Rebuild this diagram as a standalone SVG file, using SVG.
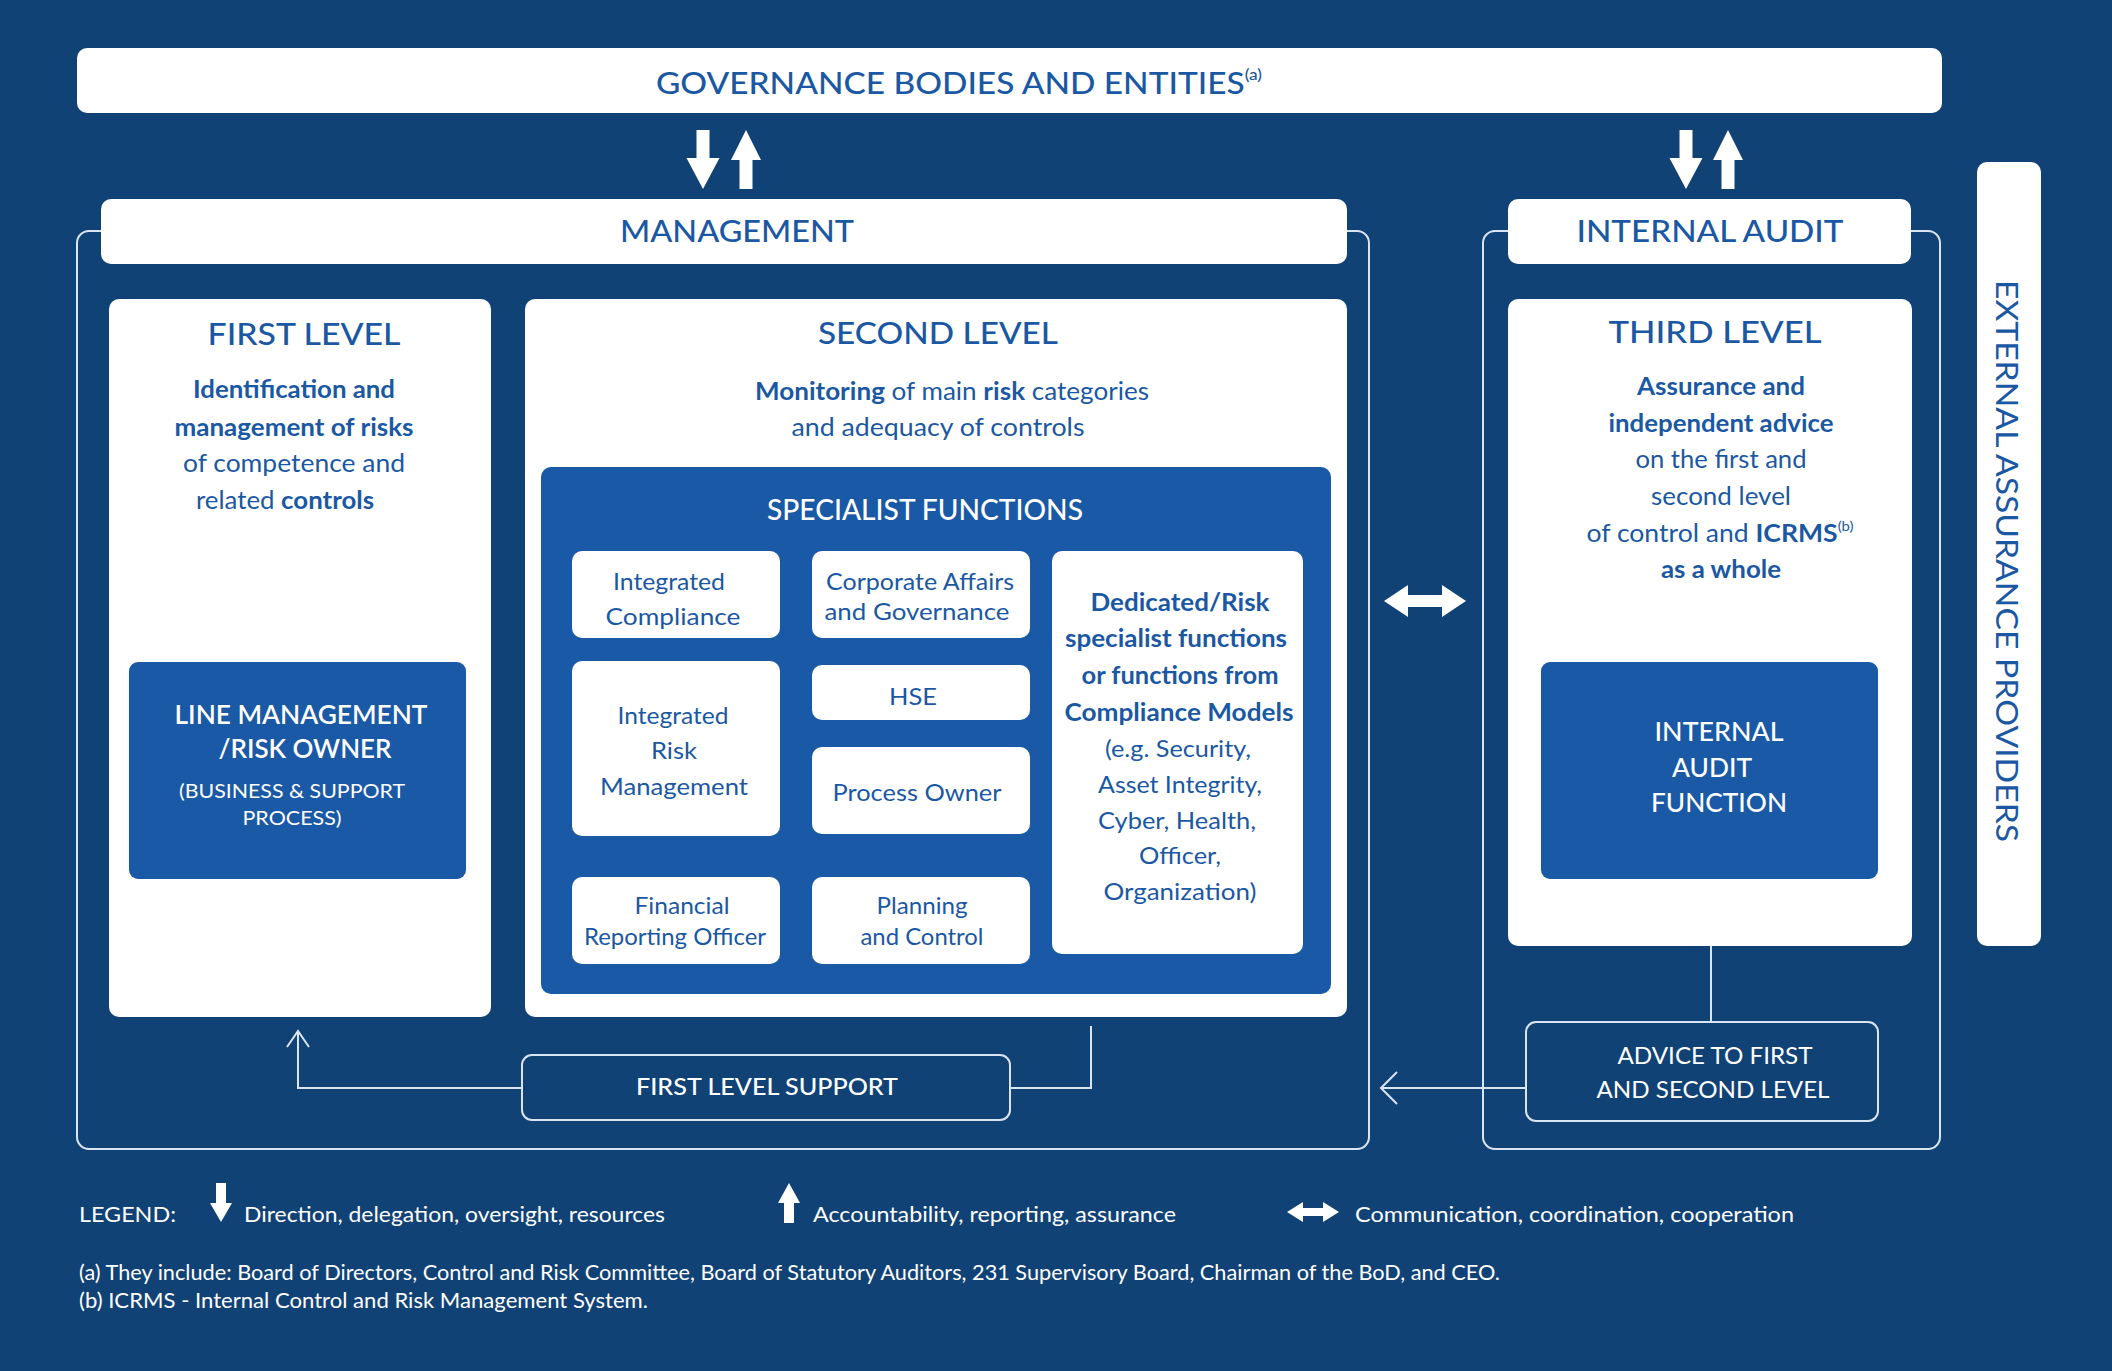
<svg xmlns="http://www.w3.org/2000/svg" width="2112" height="1371" viewBox="0 0 2112 1371">
<defs>
<style>
text{font-family:Lato,"Open Sans","Liberation Sans",sans-serif;}
.bt{fill:#1b58a3;}
.wt{fill:#ffffff;}
.c{text-anchor:middle;}
.wbox{fill:#ffffff;}
.bbox{fill:#1a59a5;}
.ol{fill:none;stroke:#dbe5f1;stroke-width:2;}
.ln{fill:none;stroke:#dbe5f1;stroke-width:2;}
.ttl{font-size:31px;font-weight:500;}
.body{font-size:25px;font-weight:400;}
.sub{font-size:24px;font-weight:400;}
.leg{font-size:22px;font-weight:400;}
.sb{font-weight:700;}
.arr{fill:#ffffff;}
</style>
<path id="dn" d="M-6.5,0 H6.5 V28 H16.5 L0,59 L-16.5,28 H-6.5 Z"/>
<path id="up" d="M0,0 L15,30 H6.5 V59 H-6.5 V30 H-15 Z"/>
</defs>
<rect x="0" y="0" width="2112" height="1371" fill="#114276"/>

<g id="containers">
<rect class="ol" x="77" y="231" width="1292" height="918" rx="12"/>
<rect class="ol" x="1483" y="231" width="457" height="918" rx="12"/>
</g>

<g id="governance">
<rect class="wbox" x="77" y="48" width="1865" height="65" rx="10"/>
<text class="bt ttl" x="656" y="94" textLength="606" lengthAdjust="spacingAndGlyphs">GOVERNANCE BODIES AND ENTITIES<tspan font-size="16" dy="-14">(a)</tspan></text>
</g>

<g id="management">
<rect class="wbox" x="101" y="199" width="1246" height="65" rx="10"/>
<text class="bt ttl c" x="737" y="242" textLength="234" lengthAdjust="spacingAndGlyphs">MANAGEMENT</text>
</g>

<g id="internal-audit">
<rect class="wbox" x="1508" y="199" width="403" height="65" rx="10"/>
<text class="bt ttl c" x="1710" y="242" textLength="267" lengthAdjust="spacingAndGlyphs">INTERNAL AUDIT</text>
</g>

<g id="external">
<rect class="wbox" x="1977" y="162" width="64" height="784" rx="10"/>
<text class="bt c" transform="translate(2007,561) rotate(90)" x="0" y="0" dy="11" font-size="31" textLength="562" lengthAdjust="spacingAndGlyphs">EXTERNAL ASSURANCE PROVIDERS</text>
</g>

<g id="first-level">
<rect class="wbox" x="109" y="299" width="382" height="718" rx="10"/>
<text class="bt ttl c" x="304" y="345" textLength="193" lengthAdjust="spacingAndGlyphs">FIRST LEVEL</text>
<text class="bt body c sb" x="294" y="398" textLength="202" lengthAdjust="spacingAndGlyphs">Identification and</text>
<text class="bt body c sb" x="294" y="436" textLength="239" lengthAdjust="spacingAndGlyphs">management of risks</text>
<text class="bt body c" x="294" y="472" textLength="222" lengthAdjust="spacingAndGlyphs">of competence and</text>
<text class="bt body c" x="285" y="509" textLength="178" lengthAdjust="spacingAndGlyphs">related <tspan class="sb">controls</tspan></text>
</g>

<g id="line-management">
<rect class="bbox" x="129" y="662" width="337" height="217" rx="9"/>
<text class="wt c" x="301" y="724" font-size="27" font-weight="600" textLength="253" lengthAdjust="spacingAndGlyphs">LINE MANAGEMENT</text>
<text class="wt c" x="305" y="758" font-size="27" font-weight="600" textLength="173" lengthAdjust="spacingAndGlyphs">/RISK OWNER</text>
<text class="wt c" x="292" y="798" font-size="20" textLength="226" lengthAdjust="spacingAndGlyphs">(BUSINESS &amp; SUPPORT</text>
<text class="wt c" x="292" y="825" font-size="20" textLength="99" lengthAdjust="spacingAndGlyphs">PROCESS)</text>
</g>

<g id="second-level">
<rect class="wbox" x="525" y="299" width="822" height="718" rx="10"/>
<text class="bt ttl c" x="938" y="344" textLength="240" lengthAdjust="spacingAndGlyphs">SECOND LEVEL</text>
<text class="bt body c" x="952" y="400" textLength="394" lengthAdjust="spacingAndGlyphs"><tspan class="sb">Monitoring</tspan> of main <tspan class="sb">risk</tspan> categories</text>
<text class="bt body c" x="938" y="436" textLength="293" lengthAdjust="spacingAndGlyphs">and adequacy of controls</text>
</g>

<g id="specialist-functions">
<rect class="bbox" x="541" y="467" width="790" height="527" rx="10"/>
<text class="wt c" x="925" y="520" font-size="28" font-weight="500" textLength="316" lengthAdjust="spacingAndGlyphs">SPECIALIST FUNCTIONS</text>
</g>

<g id="integrated-compliance">
<rect class="wbox" x="572" y="551" width="208" height="87" rx="10"/>
<text class="bt sub c" x="669" y="590" textLength="112" lengthAdjust="spacingAndGlyphs">Integrated</text>
<text class="bt sub c" x="673" y="625" textLength="135" lengthAdjust="spacingAndGlyphs">Compliance</text>
</g>

<g id="corporate-affairs">
<rect class="wbox" x="812" y="551" width="218" height="87" rx="10"/>
<text class="bt sub c" x="920" y="590" textLength="188" lengthAdjust="spacingAndGlyphs">Corporate Affairs</text>
<text class="bt sub c" x="917" y="620" textLength="185" lengthAdjust="spacingAndGlyphs">and Governance</text>
</g>

<g id="integrated-risk-management">
<rect class="wbox" x="572" y="661" width="208" height="175" rx="10"/>
<text class="bt sub c" x="673" y="724" textLength="111" lengthAdjust="spacingAndGlyphs">Integrated</text>
<text class="bt sub c" x="674" y="759" textLength="46" lengthAdjust="spacingAndGlyphs">Risk</text>
<text class="bt sub c" x="674" y="795" textLength="148" lengthAdjust="spacingAndGlyphs">Management</text>
</g>

<g id="hse">
<rect class="wbox" x="812" y="665" width="218" height="55" rx="10"/>
<text class="bt sub c" x="913" y="705" textLength="48" lengthAdjust="spacingAndGlyphs">HSE</text>
</g>

<g id="process-owner">
<rect class="wbox" x="812" y="747" width="218" height="87" rx="10"/>
<text class="bt sub c" x="917" y="801" textLength="169" lengthAdjust="spacingAndGlyphs">Process Owner</text>
</g>

<g id="financial-reporting-officer">
<rect class="wbox" x="572" y="877" width="208" height="87" rx="10"/>
<text class="bt sub c" x="682" y="914" textLength="95" lengthAdjust="spacingAndGlyphs">Financial</text>
<text class="bt sub c" x="675" y="945" textLength="182" lengthAdjust="spacingAndGlyphs">Reporting Officer</text>
</g>

<g id="planning-control">
<rect class="wbox" x="812" y="877" width="218" height="87" rx="10"/>
<text class="bt sub c" x="922" y="914" textLength="91" lengthAdjust="spacingAndGlyphs">Planning</text>
<text class="bt sub c" x="922" y="945" textLength="123" lengthAdjust="spacingAndGlyphs">and Control</text>
</g>

<g id="dedicated-risk">
<rect class="wbox" x="1052" y="551" width="251" height="403" rx="10"/>
<text class="bt sub c sb" x="1180" y="611" textLength="179" lengthAdjust="spacingAndGlyphs">Dedicated/Risk</text>
<text class="bt sub c sb" x="1176" y="647" textLength="222" lengthAdjust="spacingAndGlyphs">specialist functions</text>
<text class="bt sub c sb" x="1180" y="684" textLength="197" lengthAdjust="spacingAndGlyphs">or functions from</text>
<text class="bt sub c sb" x="1179" y="721" textLength="229" lengthAdjust="spacingAndGlyphs">Compliance Models</text>
<text class="bt sub c" x="1178" y="757" textLength="146" lengthAdjust="spacingAndGlyphs">(e.g. Security,</text>
<text class="bt sub c" x="1180" y="793" textLength="164" lengthAdjust="spacingAndGlyphs">Asset Integrity,</text>
<text class="bt sub c" x="1177" y="829" textLength="158" lengthAdjust="spacingAndGlyphs">Cyber, Health,</text>
<text class="bt sub c" x="1180" y="864" textLength="82" lengthAdjust="spacingAndGlyphs">Officer,</text>
<text class="bt sub c" x="1180" y="900" textLength="153" lengthAdjust="spacingAndGlyphs">Organization)</text>
</g>

<g id="third-level">
<rect class="wbox" x="1508" y="299" width="404" height="647" rx="10"/>
<text class="bt ttl c" x="1715" y="343" textLength="213" lengthAdjust="spacingAndGlyphs">THIRD LEVEL</text>
<text class="bt body c sb" x="1721" y="395" textLength="168" lengthAdjust="spacingAndGlyphs">Assurance and</text>
<text class="bt body c sb" x="1721" y="432" textLength="225" lengthAdjust="spacingAndGlyphs">independent advice</text>
<text class="bt body c" x="1721" y="468" textLength="171" lengthAdjust="spacingAndGlyphs">on the first and</text>
<text class="bt body c" x="1721" y="505" textLength="140" lengthAdjust="spacingAndGlyphs">second level</text>
<text class="bt body c" x="1720" y="542" textLength="267" lengthAdjust="spacingAndGlyphs">of control and <tspan class="sb">ICRMS</tspan><tspan font-size="14" dy="-11">(b)</tspan></text>
<text class="bt body c sb" x="1721" y="578" textLength="120" lengthAdjust="spacingAndGlyphs">as a whole</text>
</g>

<g id="internal-audit-function">
<rect class="bbox" x="1541" y="662" width="337" height="217" rx="9"/>
<text class="wt c" x="1719" y="741" font-size="27" font-weight="500" textLength="129" lengthAdjust="spacingAndGlyphs">INTERNAL</text>
<text class="wt c" x="1712" y="777" font-size="27" font-weight="500" textLength="80" lengthAdjust="spacingAndGlyphs">AUDIT</text>
<text class="wt c" x="1719" y="812" font-size="27" font-weight="500" textLength="136" lengthAdjust="spacingAndGlyphs">FUNCTION</text>
</g>

<g id="first-level-support">
<rect class="ol" x="522" y="1055" width="488" height="65" rx="10"/>
<text class="wt c" x="767" y="1095" font-size="23" font-weight="500" textLength="262" lengthAdjust="spacingAndGlyphs">FIRST LEVEL SUPPORT</text>
</g>

<g id="advice">
<rect class="ol" x="1526" y="1022" width="352" height="99" rx="10"/>
<text class="wt c" x="1715" y="1064" font-size="24" textLength="195" lengthAdjust="spacingAndGlyphs">ADVICE TO FIRST</text>
<text class="wt c" x="1713" y="1098" font-size="24" textLength="233" lengthAdjust="spacingAndGlyphs">AND SECOND LEVEL</text>
</g>

<g id="connectors">
<use href="#dn" class="arr" x="703" y="130"/>
<use href="#up" class="arr" x="746" y="130"/>
<use href="#dn" class="arr" x="1686" y="130"/>
<use href="#up" class="arr" x="1728" y="130"/>
<path class="arr" d="M1384,601 L1408,585 V595 H1442 V585 L1466,601 L1442,617 V607 H1408 V617 Z"/>
<path class="ln" d="M522,1088 H298 V1032"/>
<path class="ln" d="M287,1047 L298,1031 L309,1047" stroke-width="3"/>
<path class="ln" d="M1010,1088 H1091 V1026"/>
<path class="ln" d="M1711,946 V1022"/>
<path class="ln" d="M1526,1088 H1381"/>
<path class="ln" d="M1397,1072 L1381,1088 L1397,1104" stroke-width="3"/>
</g>

<g id="legend">
<text class="wt leg" x="79" y="1222" textLength="97" lengthAdjust="spacingAndGlyphs">LEGEND:</text>
<path class="arr" d="M216,1183 H226 V1203 H232 L221,1222 L210,1203 H216 Z"/>
<text class="wt leg" x="244" y="1222" textLength="421" lengthAdjust="spacingAndGlyphs">Direction, delegation, oversight, resources</text>
<path class="arr" d="M789,1183 L800,1203 H794 V1223 H784 V1203 H778 Z"/>
<text class="wt leg" x="813" y="1222" textLength="363" lengthAdjust="spacingAndGlyphs">Accountability, reporting, assurance</text>
<path class="arr" d="M1287,1212 L1303,1202 V1208 H1323 V1202 L1339,1212 L1323,1222 V1216 H1303 V1222 Z"/>
<text class="wt leg" x="1355" y="1222" textLength="439" lengthAdjust="spacingAndGlyphs">Communication, coordination, cooperation</text>
</g>

<g id="footnotes">
<text class="wt leg" x="79" y="1280" font-size="21" textLength="1421" lengthAdjust="spacingAndGlyphs">(a) They include: Board of Directors, Control and Risk Committee, Board of Statutory Auditors, 231 Supervisory Board, Chairman of the BoD, and CEO.</text>
<text class="wt leg" x="79" y="1308" font-size="21" textLength="569" lengthAdjust="spacingAndGlyphs">(b) ICRMS - Internal Control and Risk Management System.</text>
</g>
</svg>
